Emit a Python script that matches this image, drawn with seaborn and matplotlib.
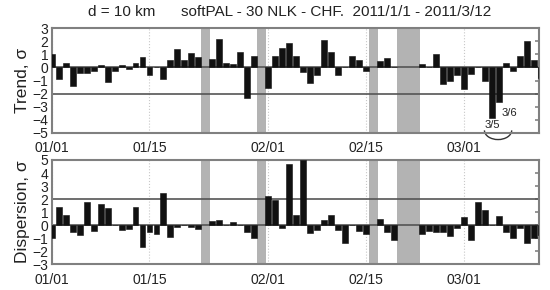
import numpy as np
import pandas as pd
import matplotlib
matplotlib.use("Agg")
import matplotlib.pyplot as plt
import seaborn as sns
from matplotlib.patches import Arc

sns.set_theme(style="white")
plt.rcParams["font.family"] = ["Liberation Sans", "DejaVu Sans"]

nan = np.nan
# day index 0 = 2011/01/01 ... 70 = 2011/03/12
days = list(range(71))
trend = [1.0, -0.9, 0.3, -1.4, -0.45, -0.45, -0.25, 0.15, -1.15, -0.3,
         0.2, -0.15, 0.35, 0.8, -0.6, 0.0, -0.85, 0.55, 1.4, 0.6,
         1.1, 0.8, nan, 0.65, 2.2, 0.35, 0.25, 1.2, -2.3, 0.9,
         nan, -1.55, 0.9, 1.5, 1.85, 0.85, -0.35, -1.2, -0.6, 2.05,
         1.2, -0.6, 0.0, 0.85, 0.55, -0.25, nan, 0.5, 0.7, 0.0,
         nan, nan, nan, 0.25, 0.0, 1.05, -1.25, -1.05, -0.6, -1.65,
         -0.5, 0.0, -1.0, -3.85, -2.6, 0.35, -0.3, 0.9, 2.0, 0.6,
         -0.8]
dispersion = [-1.0, 1.4, 0.8, -0.55, -0.75, 1.75, -0.45, 1.65, 1.35, 0.0,
              -0.35, -0.3, 1.4, -1.7, -0.5, -0.7, 2.45, -0.9, -0.15, 0.0,
              -0.15, -0.3, nan, 0.35, 0.4, 0.0, 0.25, 0.0, -0.55, -1.0,
              nan, 2.25, 1.9, -0.25, 4.7, 0.75, 5.0, -0.6, -0.35, 0.4,
              0.75, -0.4, -1.35, 0.0, -0.45, -0.7, nan, 0.5, -0.5, -1.15,
              nan, nan, nan, -0.7, -0.45, -0.55, -0.55, -0.8, -0.2, 0.6,
              -1.1, 1.75, 1.15, 0.0, 0.7, -0.5, -0.95, -0.25, -1.35, -0.95,
              -0.75]
tick_days = [0, 14, 31, 45, 59]
tick_labels = ["01/01", "01/15", "02/01", "02/15", "03/01"]
gap_spans = [(21.4, 22.65), (29.4, 30.7), (45.4, 46.7), (49.4, 52.7)]

df = pd.DataFrame({"day": days, "trend": trend, "dispersion": dispersion})

fig = plt.figure(figsize=(5.5, 2.9), dpi=100)
ax1 = fig.add_axes([0.094, 0.5414, 0.8865, 0.362])
ax2 = fig.add_axes([0.094, 0.0886, 0.8865, 0.3597])

def style(ax, col, ylim, hlines, ylabel):
    for a, b in gap_spans:
        ax.axvspan(a, b, color="#b3b3b3", lw=0, zorder=0)
    sub = df.dropna(subset=[col])
    sns.barplot(data=sub, x="day", y=col, native_scale=True, color="#111111",
                saturation=1, width=0.85, errorbar=None, edgecolor="#111111",
                linewidth=0.4, ax=ax, zorder=3)
    for h in hlines:
        ax.axhline(h, color="#555555", lw=1.2, zorder=2)
    ax.set_xlim(0, 69.8)
    ax.set_ylim(*ylim)
    ax.set_xticks(tick_days)
    ax.set_xticklabels(tick_labels)
    ax.set_yticks(range(ylim[0], ylim[1] + 1))
    ax.grid(axis="x", linestyle=":", color="#c8c8c8", lw=0.8)
    ax.set_axisbelow(True)
    ax.tick_params(direction="in", length=3, color="#888888", right=True,
                   labelsize=10, labelcolor="#222222", pad=2.5)
    ax.tick_params(axis="x", pad=6)
    for s in ax.spines.values():
        s.set_color("#808080")
        s.set_linewidth(1.5)
    ax.set_xlabel("")
    ax.set_ylabel(ylabel, fontsize=12.5, color="#222222", labelpad=1.5)

style(ax1, "trend", (-5, 3), [0, -2], "Trend, σ")
style(ax2, "dispersion", (-3, 5), [0, 2], "Dispersion, σ")

fig.text(0.16, 0.957, "d = 10 km", fontsize=11, color="#222222", va="center")
fig.text(0.329, 0.957, "softPAL - 30 NLK - CHF.  2011/1/1 - 2011/3/12",
         fontsize=11, color="#222222", va="center")

ax1.text(64.4, -3.5, "3/6", fontsize=8, color="#222222", va="center")
ax1.text(62.0, -4.4, "3/5", fontsize=8, color="#222222", va="center")
ax1.add_patch(Arc((63.9, -4.8), 3.9, 1.4, theta1=180, theta2=360,
                  color="#333333", lw=1.0, clip_on=False))

fig.savefig("out.png", dpi=100, facecolor="white")
